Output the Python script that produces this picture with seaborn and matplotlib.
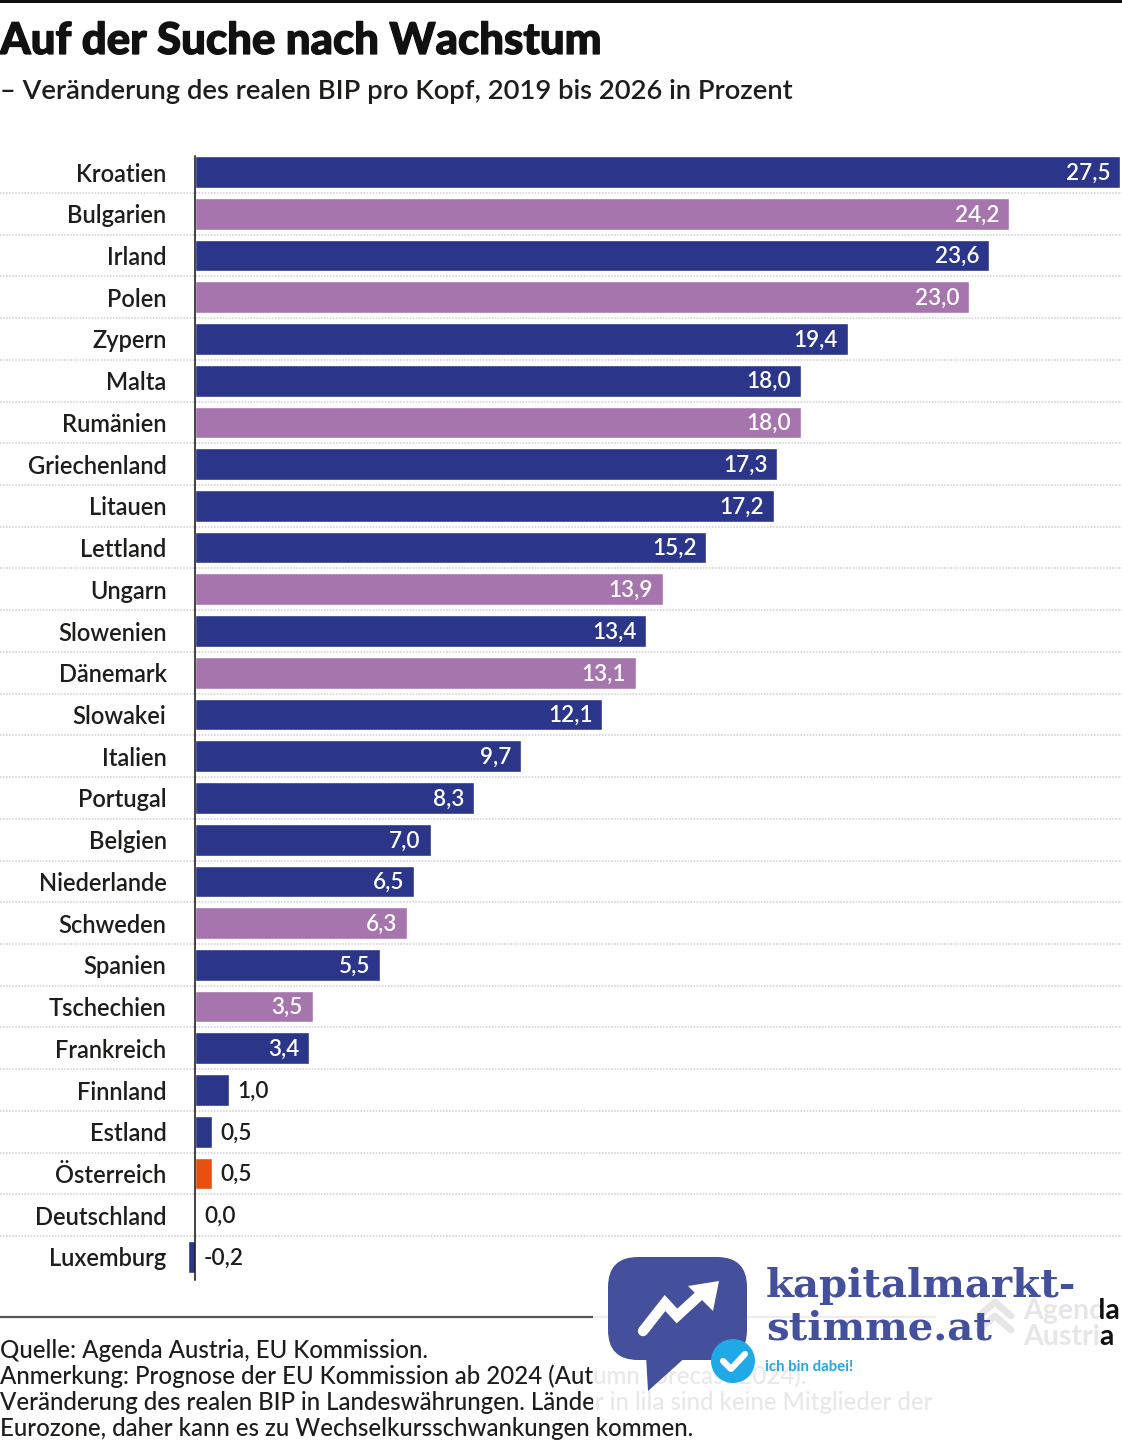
import matplotlib
matplotlib.use("Agg")
import matplotlib.patheffects as pe
import matplotlib.pyplot as plt
import pandas as pd
import seaborn as sns
from matplotlib.patches import Circle, FancyBboxPatch, Polygon, Rectangle

laender = ["Kroatien", "Bulgarien", "Irland", "Polen", "Zypern", "Malta", "Rumänien",
           "Griechenland", "Litauen", "Lettland", "Ungarn", "Slowenien", "Dänemark",
           "Slowakei", "Italien", "Portugal", "Belgien", "Niederlande", "Schweden",
           "Spanien", "Tschechien", "Frankreich", "Finnland", "Estland", "Österreich",
           "Deutschland", "Luxemburg"]
werte = [27.5, 24.2, 23.6, 23.0, 19.4, 18.0, 18.0, 17.3, 17.2, 15.2, 13.9, 13.4, 13.1,
         12.1, 9.7, 8.3, 7.0, 6.5, 6.3, 5.5, 3.5, 3.4, 1.0, 0.5, 0.5, 0.0, -0.2]
gruppen = ["euro", "lila", "euro", "lila", "euro", "euro", "lila", "euro", "euro", "euro",
           "lila", "euro", "lila", "euro", "euro", "euro", "euro", "euro", "lila", "euro",
           "lila", "euro", "euro", "euro", "at", "euro", "euro"]
farben = {"euro": "#2B3589", "lila": "#A775AE", "at": "#E8500F"}

titel = "Auf der Suche nach Wachstum"
untertitel = "– Veränderung des realen BIP pro Kopf, 2019 bis 2026 in Prozent"
fussnoten = [
    "Quelle: Agenda Austria, EU Kommission.",
    "Anmerkung: Prognose der EU Kommission ab 2024 (Autumn forecast 2024).",
    "Veränderung des realen BIP in Landeswährungen. Länder in lila sind keine Mitglieder der",
    "Eurozone, daher kann es zu Wechselkursschwankungen kommen.",
]

sns.set_theme(style="white")
plt.rcParams["font.family"] = ["Lato", "DejaVu Sans"]
TEXT = "#1d1d1b"

df = pd.DataFrame({"land": laender, "wert": werte, "gruppe": gruppen})

fig = plt.figure(figsize=(11.22, 14.4), dpi=100)
ax = fig.add_axes([0, 0, 1, 1])
ax.patch.set_alpha(0)
sns.barplot(data=df, y="land", x="wert", hue="gruppe", palette=farben, dodge=False,
            legend=False, width=0.76, saturation=1, ax=ax)

# axes cover the whole figure: 33.65 px per percent, 41.73 px per row
ax.set_xlim(-195 / 33.65, (1122 - 195) / 33.65)
ax.set_ylim((1440 - 172) / 41.73, -172 / 41.73)
ax.set_xlabel("")
ax.set_ylabel("")
ax.xaxis.set_visible(False)

for s in ["top", "right", "bottom"]:
    ax.spines[s].set_visible(False)
ax.spines["left"].set_position(("data", 0))
ax.spines["left"].set_bounds(-0.38, 26.55)
ax.spines["left"].set_color("#111111")
ax.spines["left"].set_linewidth(1.1)
ax.spines["left"].set_zorder(5)

ax.set_yticks(range(len(laender)))
ax.set_yticklabels(laender)
ax.set_yticks([i + 0.5 for i in range(len(laender) - 1)], minor=True)
ax.tick_params(axis="y", which="major", length=0, pad=20.5, labelsize=17, labelcolor=TEXT)
ax.tick_params(axis="y", which="minor", length=0)
for lab in ax.get_yticklabels():
    lab.set_fontweight("semibold")
ax.grid(True, axis="y", which="minor", color="#cfcfcf", linestyle=(0, (1, 1)), linewidth=1.1)
ax.grid(False, axis="y", which="major")
ax.set_axisbelow(True)

for i, w in enumerate(werte):
    label = f"{w:.1f}".replace(".", ",")
    if w > 3:
        ax.annotate(label, (w, i), xytext=(-7, -0.8), textcoords="offset points", ha="right",
                    va="center", color="white", fontsize=16.2, fontweight="semibold")
    else:
        ax.annotate(label, (max(w, 0), i), xytext=(6.5, -0.8), textcoords="offset points", ha="left",
                    va="center", color=TEXT, fontsize=16.2, fontweight="semibold")

# overlay in image pixels for header, footer and watermark
ov = fig.add_axes([0, 0, 1, 1])
ov.set_xlim(0, 1122)
ov.set_ylim(1440, 0)
ov.axis("off")

ov.add_patch(Rectangle((0, 0), 1122, 3, color="#111111", lw=0))
ov.text(0, 41, titel, fontsize=31.5, fontweight="black", color="#111111", va="center", ha="left",
        path_effects=[pe.withStroke(linewidth=0.9, foreground="#111111")])
ov.text(0, 91, untertitel, fontsize=19.7, fontweight="semibold", color=TEXT, va="center", ha="left")

ov.plot([0, 935], [1316.5, 1316.5], color="#555555", lw=1.6)
for y, zeile in zip([1350, 1376, 1403, 1429], fussnoten):
    ov.text(0, y, zeile, fontsize=17.3, fontweight="medium", color=TEXT, va="center", ha="left")

# Agenda Austria logo, mostly under the veil
ov.plot([979, 995, 1011], [1316, 1302, 1316], color="#111111", lw=5)
ov.plot([979, 995, 1011], [1330, 1316, 1330], color="#111111", lw=5)
ov.text(1023, 1311, "Agenda", fontsize=20.5, fontweight="bold", color="#111111", va="center")
ov.text(1023, 1337, "Austria", fontsize=20.5, fontweight="bold", color="#111111", va="center")

# white veil of the watermark
ov.add_patch(Rectangle((593, 1290), 507, 125, color="white", alpha=0.9, lw=0, zorder=4))

blau = "#44509C"
ov.add_patch(FancyBboxPatch((608, 1257), 139, 103, boxstyle="round,pad=0,rounding_size=30",
                            color=blau, lw=0, zorder=5))
ov.add_patch(Polygon([(646, 1355), (688, 1355), (648, 1391)], color=blau, lw=0, zorder=5))
ov.plot([643, 665, 677, 702], [1331, 1303, 1316, 1293], color="white", lw=7.5,
        solid_capstyle="round", solid_joinstyle="miter", zorder=6)
ov.add_patch(Polygon([(688, 1286), (719, 1281), (713, 1311)], color="white", lw=0, zorder=6))
ov.add_patch(Circle((733, 1361), 22, color="#1FA9E6", lw=0, zorder=6))
ov.plot([723, 731, 745], [1361, 1369, 1354], color="white", lw=4.5, solid_capstyle="round", zorder=7)
ov.text(766, 1286, "kapitalmarkt-", family="DejaVu Serif", fontweight="bold", fontsize=29,
        color=blau, va="center", ha="left", zorder=6)
ov.text(766, 1329, "stimme.at", family="DejaVu Serif", fontweight="bold", fontsize=29,
        color=blau, va="center", ha="left", zorder=6)
ov.text(765, 1367, "ich bin dabei!", fontsize=10.8, fontweight="bold", color="#1FA9E6",
        va="center", ha="left", zorder=6)

fig.savefig("out.png", dpi=100)
